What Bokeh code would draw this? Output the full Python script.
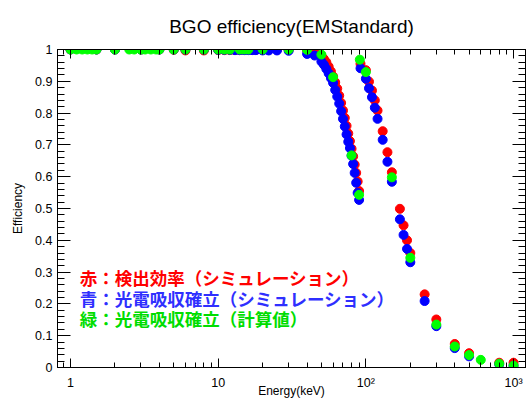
from bokeh.plotting import figure
from bokeh.models import (Range1d, LinearAxis, LogAxis, SingleIntervalTicker, LogTicker,
                          CustomJSTickFormatter, Label, ColumnDataSource)
from bokeh.embed import file_html
from bokeh.resources import INLINE

# ---------------- data ----------------
# simulation energies (keV) used for red and blue points
e_sim = [1, 1.5, 2, 3, 4, 5, 6, 8, 10, 11, 12, 13, 14, 15, 16, 17, 18, 20, 22, 25, 30,
         40, 45, 50, 52, 54, 56, 58, 60, 62, 64, 66, 68, 70, 72, 74, 76, 78, 80, 82, 84, 86, 88, 90,
         92, 100, 105, 110, 115, 120, 130, 140, 150, 170, 180, 190, 200, 250, 300, 400, 500, 800, 1000]
# red: detection efficiency (simulation)
eff_det = [1.0, 1.0, 1.0, 1.0, 1.0, 0.999, 0.997, 0.997, 0.998, 0.998, 0.998, 0.998, 0.998, 0.999, 0.999,
           0.999, 0.999, 0.999, 0.999, 0.999, 0.999,
           0.997, 0.994, 0.980, 0.970, 0.960, 0.946, 0.931, 0.915, 0.897, 0.877, 0.855, 0.832, 0.808,
           0.785, 0.760, 0.736, 0.712, 0.688, 0.664, 0.638, 0.612, 0.585, 0.555,
           0.955, 0.935, 0.899, 0.871, 0.840, 0.808, 0.743, 0.677, 0.614, 0.499, 0.447, 0.400, 0.360,
           0.230, 0.151, 0.074, 0.045, 0.015, 0.015]
# blue: photo-absorption probability (simulation)
eff_photo = [1.0, 1.0, 1.0, 1.0, 1.0, 1.0, 1.0, 1.0, 0.999, 0.999, 0.999, 0.998, 0.998, 0.998, 0.998,
             0.998, 0.998, 0.997, 0.997, 0.997, 0.996,
             0.986, 0.981, 0.962, 0.952, 0.939, 0.925, 0.910, 0.895, 0.873, 0.852, 0.830, 0.806, 0.782,
             0.758, 0.733, 0.710, 0.690, 0.666, 0.640, 0.612, 0.581, 0.549, 0.527,
             0.941, 0.908, 0.878, 0.850, 0.817, 0.782, 0.716, 0.647, 0.584, 0.466, 0.417, 0.373, 0.331,
             0.209, 0.130, 0.061, 0.035, 0.010, 0.005]
# green: photo-absorption probability (calculated)
e_calc = [1, 1.1, 1.2, 1.3, 1.4, 1.5, 2, 2.5, 2.7, 3, 3.2, 3.5, 3.8, 4, 5, 6, 8, 10, 11, 12, 14, 15, 16,
          20, 30, 40, 50, 60, 80, 90, 91, 100, 150, 200, 300, 400, 500, 600, 800, 1000]
eff_calc = [1.0, 1.0, 1.0, 1.0, 1.0, 1.0, 1.0, 1.0, 1.0, 1.0, 1.0, 1.0, 1.0, 1.0, 1.0, 1.0, 1.0, 1.0, 1.0,
            1.0, 1.0, 1.0, 1.0, 1.0, 1.0, 0.999, 0.984, 0.913, 0.667, 0.543, 0.968, 0.929, 0.598, 0.345,
            0.135, 0.066, 0.039, 0.024, 0.012, 0.006]

title_text = "BGO efficiency(EMStandard)"
x_title = "Energy(keV)"
y_title = "Efficiency"
legend_lines = ["赤：検出効率（シミュレーション）",
                "青：光電吸収確立（シミュレーション）",
                "緑：光電吸収確立（計算値）"]
legend_colors = ["#ff0000", "#2f2fff", "#00dd00"]

FONT = "Liberation Sans"

p = figure(width=526, height=400, x_axis_type="log",
           x_range=Range1d(0.8165, 1205), y_range=Range1d(0, 1),
           output_backend="svg", toolbar_location=None,
           min_border_left=57, min_border_right=1, min_border_top=49, min_border_bottom=33,
           title=title_text)
p.background_fill_color = "white"
p.border_fill_color = "white"
p.outline_line_color = "black"
p.outline_line_width = 1
p.grid.visible = False

p.title.text_font = FONT
p.title.text_font_size = "19px"
p.title.text_font_style = "normal"
p.title.text_color = "black"
p.title.align = "center"
p.title.standoff = 25

def style_axis(ax, tick_major, tick_minor, labels=True):
    ax.major_tick_in = tick_major
    ax.major_tick_out = 0
    ax.minor_tick_in = tick_minor
    ax.minor_tick_out = 0
    ax.axis_line_color = "black"
    ax.major_tick_line_color = "black"
    ax.minor_tick_line_color = "black"
    if labels:
        ax.major_label_text_font = FONT
        ax.major_label_text_font_size = "12.5px"
        ax.major_label_text_color = "black"
        ax.axis_label_text_font = FONT
        ax.axis_label_text_font_size = "12px"
        ax.axis_label_text_font_style = "normal"
        ax.axis_label_text_color = "black"
    else:
        ax.major_label_standoff = 0

xfmt = CustomJSTickFormatter(code="""
const k = Math.round(tick);
const m = {1: '1', 10: '10', 100: '10\u00b2', 1000: '10\u00b3'};
return (k in m) ? m[k] : '';
""")
yfmt = CustomJSTickFormatter(code="return (Math.round(tick*10)/10).toString();")
nofmt = CustomJSTickFormatter(code="return '';")

xa = p.xaxis[0]
xa.ticker = LogTicker(num_minor_ticks=10)
xa.formatter = xfmt
xa.axis_label = x_title
style_axis(xa, 9, 5)
xa.major_label_standoff = 8
xa.axis_label_standoff = -9

ya = p.yaxis[0]
ya.ticker = SingleIntervalTicker(interval=0.1, num_minor_ticks=5)
ya.formatter = yfmt
ya.axis_label = y_title
style_axis(ya, 13, 7)
ya.major_label_standoff = 5
ya.axis_label_standoff = 7

top = LogAxis(ticker=LogTicker(num_minor_ticks=10), formatter=nofmt)
style_axis(top, 9, 5, labels=False)
p.add_layout(top, "above")

right = LinearAxis(ticker=SingleIntervalTicker(interval=0.1, num_minor_ticks=5), formatter=nofmt)
style_axis(right, 13, 7, labels=False)
p.add_layout(right, "right")

src_sim = ColumnDataSource(dict(e=e_sim, det=eff_det, photo=eff_photo))
src_calc = ColumnDataSource(dict(e=e_calc, calc=eff_calc))

p.scatter("e", "det", source=src_sim, size=9, color="#ff0000")
p.scatter("e", "photo", source=src_sim, size=9, color="#0000ff")
p.scatter("e", "calc", source=src_calc, size=9, color="#00ff00")

legend_y = [0.283, 0.216, 0.155]
for txt, col, yy in zip(legend_lines, legend_colors, legend_y):
    p.add_layout(Label(x=1.156, y=yy, text=txt, text_color=col, text_font="Noto Sans CJK JP",
                       text_font_size="17.5px", text_font_style="bold", text_baseline="middle"))

open("out.html", "w").write(file_html(p, INLINE))
